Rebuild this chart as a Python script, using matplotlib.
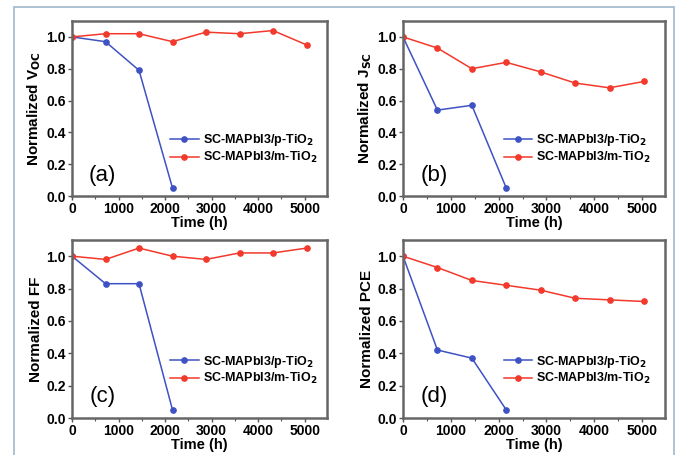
import matplotlib
matplotlib.use('Agg')
import matplotlib.pyplot as plt
from matplotlib.patches import Rectangle
from matplotlib.ticker import MultipleLocator

plt.rcParams['font.family'] = ['Liberation Sans', 'DejaVu Sans']

# data (time in hours, normalized values)
time_m = [0, 720, 1440, 2160, 2880, 3600, 4320, 5040]
time_p = [0, 720, 1440, 2160]

voc_p = [1.0, 0.97, 0.79, 0.05]
voc_m = [1.0, 1.02, 1.02, 0.97, 1.03, 1.02, 1.04, 0.95]
jsc_p = [1.0, 0.54, 0.57, 0.05]
jsc_m = [1.0, 0.93, 0.80, 0.84, 0.78, 0.71, 0.68, 0.72]
ff_p = [1.0, 0.83, 0.83, 0.05]
ff_m = [1.0, 0.98, 1.05, 1.0, 0.98, 1.02, 1.02, 1.05]
pce_p = [1.0, 0.42, 0.37, 0.05]
pce_m = [1.0, 0.93, 0.85, 0.82, 0.79, 0.74, 0.73, 0.72]

ylabels = [r'Normalized V$_{\mathbf{OC}}$', r'Normalized J$_{\mathbf{SC}}$',
           'Normalized FF', 'Normalized PCE']
panel_tags = ['(a)', '(b)', '(c)', '(d)']
series_p = [voc_p, jsc_p, ff_p, pce_p]
series_m = [voc_m, jsc_m, ff_m, pce_m]

label_p = r'SC-MAPbI3/p-TiO$_\mathbf{2}$'
label_m = r'SC-MAPbI3/m-TiO$_\mathbf{2}$'

blue = '#3f52c4'
red = '#f2392c'

W, H = 678, 455
fig = plt.figure(figsize=(W / 100, H / 100), dpi=100)

# light frame around the figure
fig.patches.append(Rectangle((14 / W, -0.05), (674 - 14) / W, 1.05 - 7 / H,
                             transform=fig.transFigure, fill=False,
                             edgecolor='#9fb8cb', linewidth=1.2))

# axes boxes in pixels: left, top, right, bottom
boxes = [(72, 21, 327, 196), (403, 21, 665, 196),
         (72, 240, 327, 418), (403, 240, 665, 418)]

for i, (l, t, r, b) in enumerate(boxes):
    ax = fig.add_axes([l / W, 1 - b / H, (r - l) / W, (b - t) / H])
    ax.plot(time_p, series_p[i], '-o', color=blue, lw=1.1, ms=3.8, label=label_p)
    ax.plot(time_m, series_m[i], '-o', color=red, lw=1.1, ms=3.8, label=label_m)
    ax.set_xlim(0, 5480)
    ax.set_ylim(0, 1.1)
    ax.xaxis.set_major_locator(MultipleLocator(1000))
    ax.xaxis.set_minor_locator(MultipleLocator(500))
    ax.tick_params(which='major', direction='out', length=3, width=1,
                   labelsize=10, pad=1.5, color='#555555')
    ax.tick_params(which='minor', direction='out', length=2, width=0.8,
                   color='#555555')
    for lab in ax.get_xticklabels():
        lab.set_fontweight('bold')
    ax.set_yticks([0, 0.2, 0.4, 0.6, 0.8, 1.0])
    ax.set_yticklabels(['0.0', '0.2', '0.4', '0.6', '0.8', '1.0'],
                       fontweight='bold', fontsize=10)
    for s in ax.spines.values():
        s.set_color('#666666')
        s.set_linewidth(1.8)
    ax.set_xlabel('Time (h)', fontsize=10.5, fontweight='bold', labelpad=0)
    ax.set_ylabel(ylabels[i], fontsize=11, fontweight='bold', labelpad=2)
    ax.text(0.12, 0.12, panel_tags[i], transform=ax.transAxes,
            fontsize=16, ha='center', va='center')
    ax.legend(loc='center left', bbox_to_anchor=(0.36, 0.27),
              frameon=False, prop={'size': 9, 'weight': 'bold'},
              handlelength=2.3, handletextpad=0.3, labelspacing=0.12,
              borderpad=0)

fig.savefig('out.png', dpi=100, facecolor='white')
